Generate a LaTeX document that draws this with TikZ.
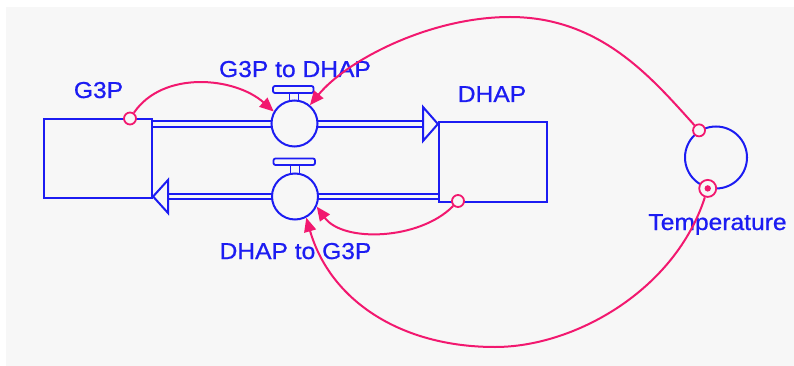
\documentclass[tikz,border=0pt]{standalone}
\usepackage{fontspec}
\newfontfamily\labfont[FakeStretch=1.07,FakeBold=0.8]{Liberation Sans}
\usetikzlibrary{arrows.meta}
\definecolor{sblue}{HTML}{1C1CF2}
\definecolor{spink}{HTML}{F2186F}
\definecolor{sbg}{HTML}{F7F7F7}
\tikzset{
 stock/.style={draw=sblue, line width=2.2pt, fill=sbg, rectangle, minimum width=108pt, minimum height=80pt, inner sep=0pt},
 valve/.style={draw=sblue, line width=2pt, fill=sbg, circle, minimum size=46pt, inner sep=0pt},
 conv/.style={draw=sblue, line width=2pt, circle, minimum size=62pt, inner sep=0pt},
 pipe/.style={draw=sblue, line width=2.1pt, double=sbg, double distance=3.2pt},
 flowhead/.style={draw=sblue, line width=2pt, fill=sbg, line join=miter},
 lab/.style={text=sblue, font=\labfont\fontsize{23}{25}\selectfont, anchor=base, inner sep=0pt},
 conn/.style={draw=spink, line width=2pt, -{Triangle[length=14pt,width=12pt]}},
 srcmark/.style={draw=spink, line width=1.8pt, fill=sbg, circle, minimum size=12pt, inner sep=0pt},
 bigsrcmark/.style={draw=spink, line width=1.8pt, fill=sbg, circle, minimum size=17pt, inner sep=0pt},
 valvebar/.style={draw=sblue, line width=1.8pt, fill=sbg, rounded corners=2pt},
 stem/.style={draw=sblue, line width=1.8pt},
}
\begin{document}
\begin{tikzpicture}[x=1pt,y=-1pt]
\useasboundingbox (0,0) rectangle (794,366);
\fill[white] (0,0) rectangle (794,366);
\fill[sbg] (6,7) rectangle (794,366);

% coordinates for the flow pipes
\coordinate (uvc) at (294.5,123.5);
\coordinate (lvc) at (295,196.5);
\coordinate (uhb) at (423,124);
\coordinate (lhb) at (168,196.5);

% stocks
\node[stock, minimum height=79pt] (g3p) at (98,158.5) {};
\node[stock] (dhap) at (493,162) {};

% pipes
\draw[pipe] (g3p.east |- uhb) -- (uhb);
\draw[pipe] (dhap.west |- lvc) -- (lhb);
\draw[flowhead] (423,107) -- (dhap.west |- uhb) -- (423,141) -- cycle;
\draw[flowhead] (168,180) -- (g3p.east |- lvc) -- (168,213) -- cycle;

% valves
\draw[stem] (289.5,93) -- (289.5,101.5);
\draw[stem] (298.5,93) -- (298.5,101.5);
\draw[valvebar] (273,86) rectangle (313.5,93);
\node[valve] (uv) at (uvc) {};
\draw[stem] (290.5,165) -- (290.5,174);
\draw[stem] (299.5,165) -- (299.5,174);
\draw[valvebar] (273.5,158.5) rectangle (315,165);
\node[valve] (lv) at (lvc) {};

% converter
\node[conv] (temp) at (716,157.5) {};

% labels
\node[lab] (tg3p) at (98.5,98) {G3P};
\node[lab] (tf1) at (295,77) {G3P to DHAP};
\node[lab] (tdhap) at (492,102) {DHAP};
\node[lab] (tf2) at (295.5,259) {DHAP to G3P};
\node[lab] (ttemp) at (717.5,230) {Temperature};

% connector origins
\node[srcmark] (m1) at (130,118.5) {};
\node[srcmark] (m3) at (458,201) {};
\node[srcmark] (mt1) at (temp.122) {};
\node[bigsrcmark] (mt2) at (temp.-105) {};
\fill[spink] (mt2) circle (3.2pt);

% connectors
\draw[conn] (m1) .. controls (163,70) and (235,77) .. (uv.150);
\draw[conn] (mt1) .. controls (651,77) and (600,17) .. (510,17)
                  .. controls (430,17) and (347,60) .. (uv.50);
\draw[conn] (m3) .. controls (420,240) and (343,243) .. (lv.-25);
\draw[conn] (mt2) .. controls (675,290) and (575,347) .. (495,347)
                  .. controls (400,347) and (330,300) .. (lv.-62);
\end{tikzpicture}
\end{document}
